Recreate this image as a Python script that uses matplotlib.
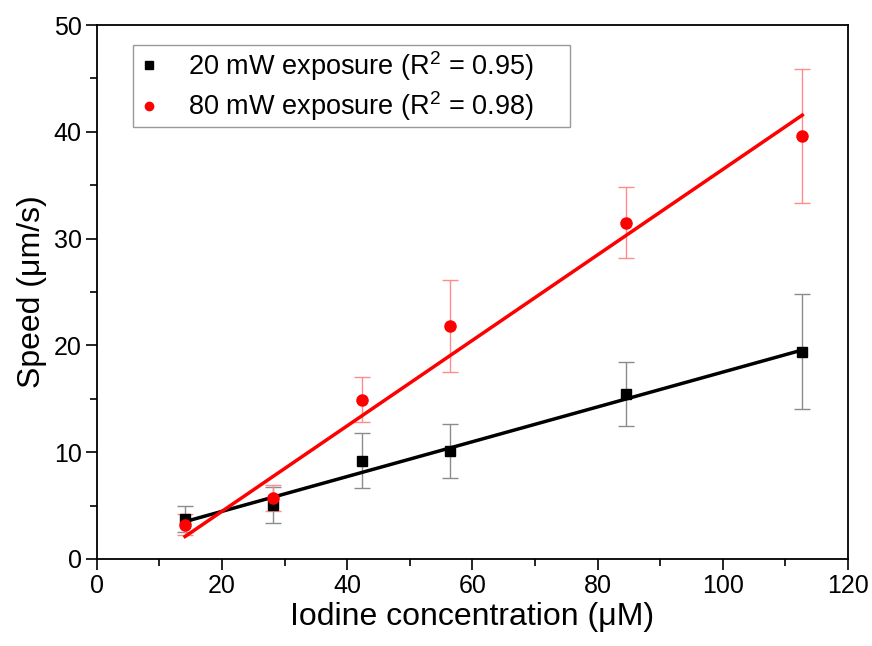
import numpy as np
import matplotlib
matplotlib.use("Agg")
import matplotlib.pyplot as plt
from matplotlib.ticker import MultipleLocator

plt.rcParams['font.family'] = ['Liberation Sans', 'DejaVu Sans']
plt.rcParams['mathtext.fontset'] = 'custom'
plt.rcParams['mathtext.rm'] = 'Liberation Sans'

# data
conc = [14.1, 28.2, 42.3, 56.4, 84.5, 112.7]
speed_20 = [3.75, 5.05, 9.2, 10.1, 15.45, 19.4]
err_20 = [1.2, 1.7, 2.6, 2.5, 3.0, 5.4]
speed_80 = [3.2, 5.7, 14.9, 21.8, 31.5, 39.6]
err_80 = [1.0, 1.2, 2.1, 4.3, 3.3, 6.3]
# linear fits (slope, intercept) as drawn
fit_20 = (0.163, 1.2)
fit_80 = (0.4002, -3.54)
labels = ['20 mW exposure (R$^2$ = 0.95)     ', '80 mW exposure (R$^2$ = 0.98)     ']

fig = plt.figure(figsize=(8.72, 6.46), dpi=100)
ax = fig.add_axes([0.111, 0.1347, 0.8615, 0.8266])

xf = np.array([conc[0], conc[-1]])
ax.plot(xf, fit_20[0]*xf + fit_20[1], color='black', lw=2.5, zorder=2)
ax.plot(xf, fit_80[0]*xf + fit_80[1], color='red', lw=2.5, zorder=2)

ax.errorbar(conc, speed_20, yerr=err_20, fmt='none', ecolor='#8c8c8c',
            elinewidth=1, capsize=6, capthick=1, zorder=1)
ax.errorbar(conc, speed_80, yerr=err_80, fmt='none', ecolor='#ff8c8c',
            elinewidth=1, capsize=6, capthick=1, zorder=1)
ax.plot(conc, speed_20, 's', color='black', ms=7.5, label=labels[0], zorder=3)
ax.plot(conc, speed_80, 'o', color='red', ms=8, label=labels[1], zorder=3)

ax.set_xlim(0, 120)
ax.set_ylim(0, 50)
ax.xaxis.set_major_locator(MultipleLocator(20))
ax.xaxis.set_minor_locator(MultipleLocator(10))
ax.yaxis.set_major_locator(MultipleLocator(10))
ax.yaxis.set_minor_locator(MultipleLocator(5))
ax.tick_params(which='major', direction='out', length=8, width=1.2, labelsize=18, pad=3)
ax.tick_params(which='minor', direction='out', length=5, width=1.2)
for s in ax.spines.values():
    s.set_linewidth(1.3)

ax.set_xlabel('Iodine concentration (\u03bcM)', fontsize=23, labelpad=3)
ax.set_ylabel('Speed (\u03bcm/s)', fontsize=23, labelpad=5)

leg = ax.legend(loc='upper left', bbox_to_anchor=(0.048, 0.963), fontsize=19.5,
                frameon=True, fancybox=False, edgecolor='#808080',
                handlelength=0.9, handletextpad=1.0, borderpad=0.15,
                labelspacing=0.25, markerscale=0.75, borderaxespad=0)
leg.get_frame().set_linewidth(1)

fig.savefig('out.png', dpi=100)
